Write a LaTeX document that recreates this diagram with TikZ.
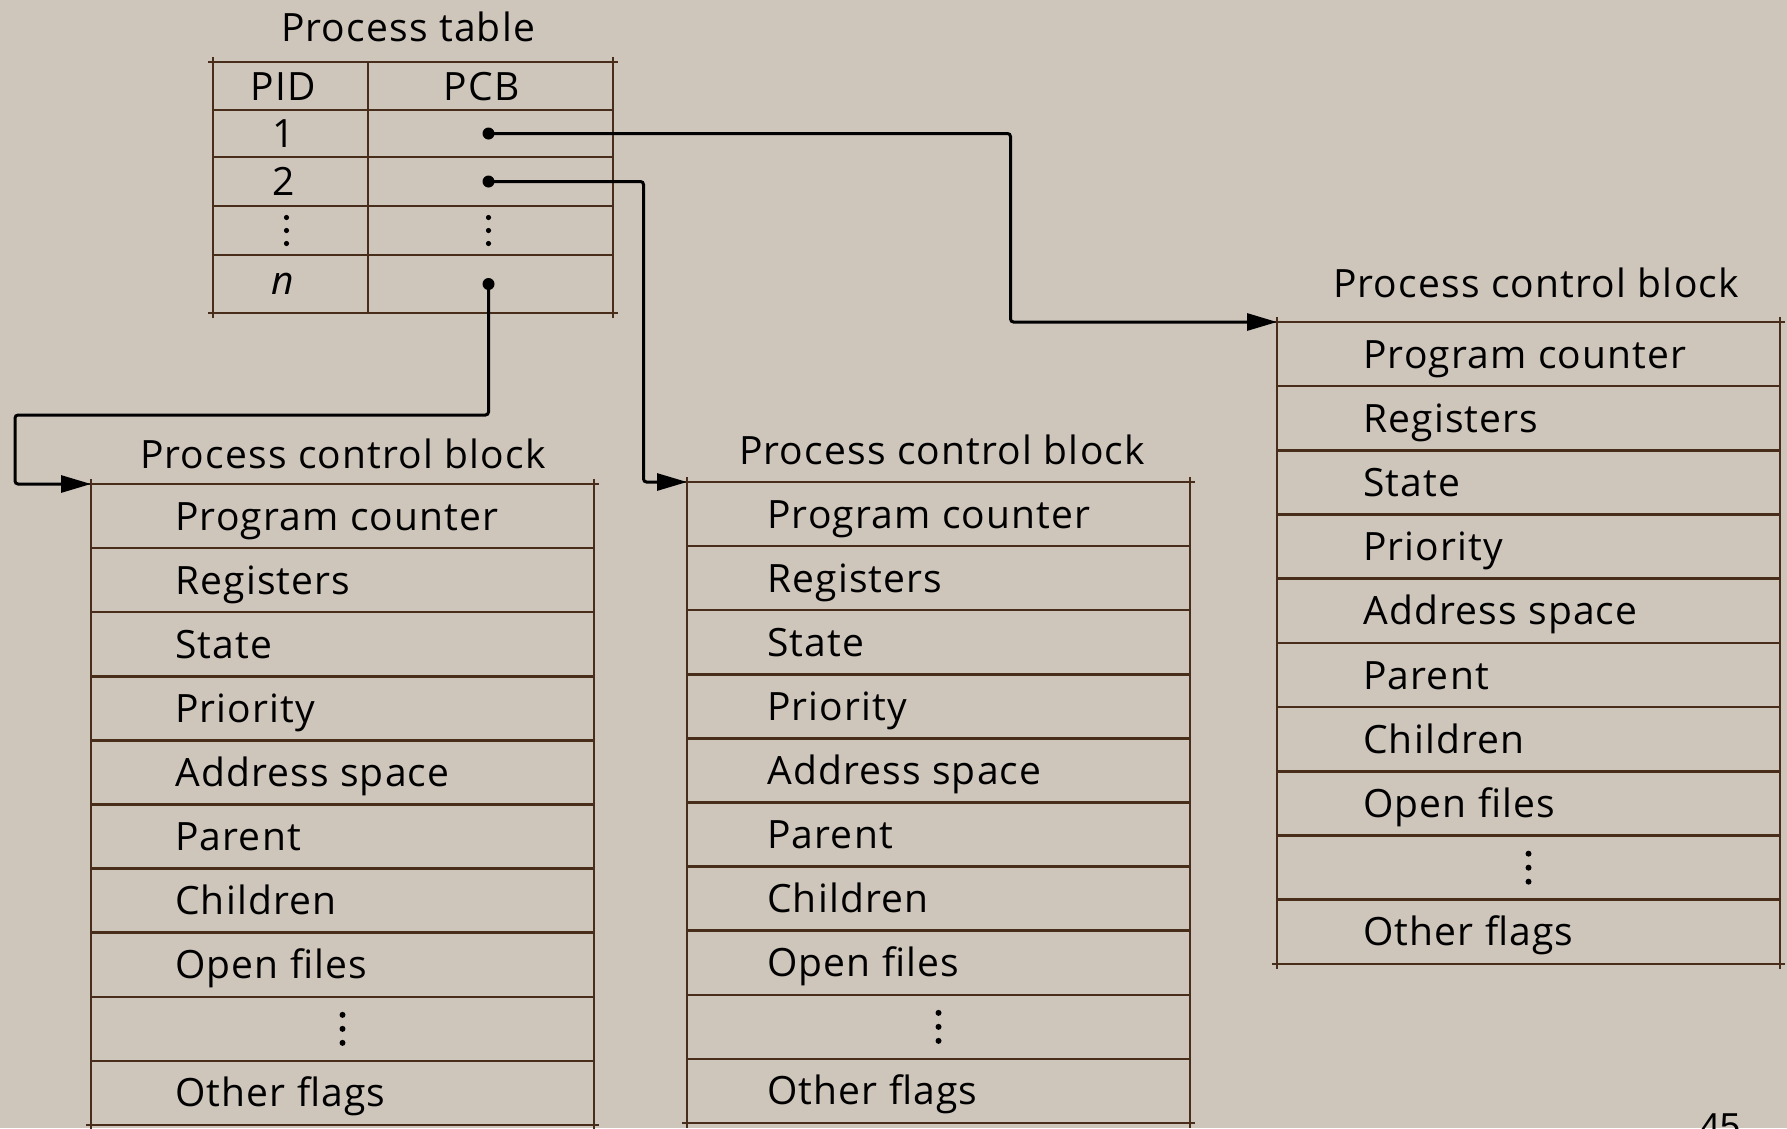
\documentclass[tikz,border=0pt]{standalone}
\usepackage{fontspec}
\setmainfont{Open Sans}[LetterSpace=3]
\newfontfamily\pagenofont{Liberation Sans}
\usetikzlibrary{arrows.meta}

\definecolor{paper}{RGB}{206,197,187}
\definecolor{rule}{RGB}{72,46,26}

\newcommand\labelfont{\fontsize{39}{46}\selectfont}

% One process control block: #1 name prefix, #2 left x, #3 top y,
% #4 row height, #5 text inset from the left edge
\newcommand\pcbblock[5]{%
  \foreach \lbl [count=\i] in {Program counter,Registers,State,Priority,Address space,Parent,Children,Open files,{},Other flags}{
    \node[pcbrow] (#1\i) at (#2,{#3+(\i-1)*#4}) {};
    \node[rowtext] (#1t\i) at ([xshift=#5pt,yshift=-14pt]#1\i.west) {\lbl};
  }
  \foreach \dy in {-14,0,14}
    \fill[black] ([yshift=\dy pt]#19.center) circle (3pt);
  % small overshoots at the frame corners
  \draw[frame, shorten <=-5pt, shorten >=-5pt] (#11.north west) -- (#11.north east);
  \draw[frame, shorten <=-5pt, shorten >=-5pt] (#110.south west) -- (#110.south east);
  \draw[frame, shorten <=-5pt, shorten >=-5pt] (#11.north west) -- (#110.south west);
  \draw[frame, shorten <=-5pt, shorten >=-5pt] (#11.north east) -- (#110.south east);
}

\begin{document}
\begin{tikzpicture}[x=1pt,y=-1pt,
  every node/.style={font=\labelfont, text=black},
  frame/.style={draw=rule, line width=2.5pt},
  pcbrow/.style={frame, anchor=north west, minimum width=503pt,
    minimum height=64.1pt, inner sep=0pt, outer sep=0pt},
  rowtext/.style={anchor=base west, inner sep=0pt},
  cell/.style={frame, inner sep=0pt, outer sep=0pt},
  celltext/.style={anchor=base, inner sep=0pt},
  title/.style={anchor=base, inner sep=0pt},
  ptr/.style={circle, fill=black, minimum size=12pt, inner sep=0pt},
  conn/.style={draw=black, line width=3pt, rounded corners=3pt,
    -{Triangle[length=30pt,width=17pt]}}]

\useasboundingbox (0,0) rectangle (1787,1128);
\fill[paper] (0,0) rectangle (1787,1128);

% ---- process table ----
\node[title] (ptitle) at (408,41) {Process table};
\foreach \r/\yc/\h in {h/86/48, 1/133.5/47, 2/181.5/49, d/230.5/49, n/284/58}{
  \node[cell, minimum width=155pt, minimum height=\h pt] (pid\r) at (290.5,\yc) {};
  \node[cell, minimum width=245pt, minimum height=\h pt] (pcb\r) at (490.5,\yc) {};
}
\draw[frame, shorten <=-5pt, shorten >=-5pt] (pidh.north west) -- (pcbh.north east);
\draw[frame, shorten <=-5pt, shorten >=-5pt] (pidn.south west) -- (pcbn.south east);
\draw[frame, shorten <=-5pt, shorten >=-5pt] (pidh.north west) -- (pidn.south west);
\draw[frame, shorten <=-5pt, shorten >=-5pt] (pcbh.north east) -- (pcbn.south east);

\node[celltext] (lpid) at ([xshift=-7pt,yshift=-14pt]pidh.center) {PID};
\node[celltext] (lpcb) at ([xshift=-9pt,yshift=-14pt]pcbh.center) {PCB};
\node[celltext] (l1) at ([xshift=-7pt,yshift=-14pt]pid1.center) {1};
\node[celltext] (l2) at ([xshift=-7pt,yshift=-14pt]pid2.center) {2};
\node[celltext] (ln) at ([xshift=-7pt,yshift=-10pt]pidn.center) {\textit{n}};
\foreach \dy in {-13,0,13}{
  \fill[black] ([xshift=-4pt,yshift=\dy pt]pidd.center) circle (2.6pt);
  \fill[black] ([xshift=-2pt,yshift=\dy pt]pcbd.center) circle (2.6pt);
}
\node[ptr] (p1) at ([xshift=-2pt]pcb1.center) {};
\node[ptr] (p2) at ([xshift=-2pt]pcb2.center) {};
\node[ptr] (pn) at ([xshift=-2pt]pcbn.center) {};

% ---- process control blocks ----
\node[title] (tL) at (343,468) {Process control block};
\node[title] (tM) at (942,464) {Process control block};
\node[title] (tR) at (1536,297) {Process control block};
\pcbblock{L}{91}{484}{64.1}{84}
\pcbblock{M}{687}{482}{64.1}{80}
\pcbblock{R}{1277}{322}{64.2}{86}

% ---- pointers from the table to the blocks ----
\draw[conn] (p1.center) -- ++(522,0) |- (R1.north west);
\draw[conn] (p2.center) -- ++(155,0) |- (M1.north west);
\draw[conn] (pn.center) -- ++(0,131) -| ([xshift=-76pt]L1.north west) -- (L1.north west);

% page number, cut by the lower edge
\node[anchor=base west, inner sep=0pt, font=\pagenofont\fontsize{36}{40}\selectfont] (pageno) at (1700,1138) {45};
\end{tikzpicture}
\end{document}
